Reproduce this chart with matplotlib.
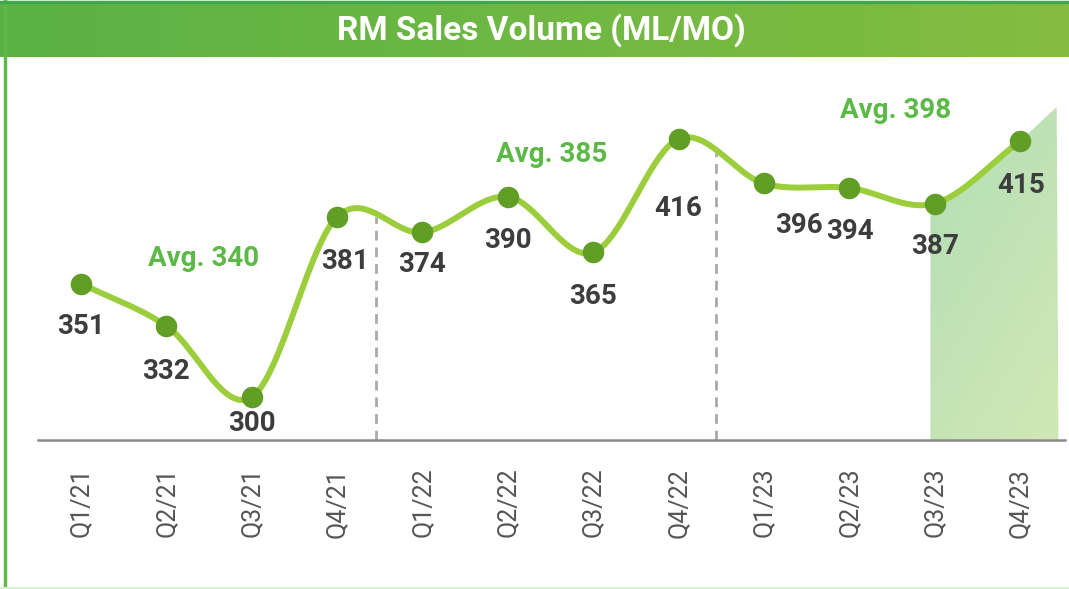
#!/usr/bin/env python3
import numpy as np
from matplotlib import pyplot as plt
from matplotlib.patches import Polygon
from matplotlib.colors import LinearSegmentedColormap

quarters = ['Q1/21', 'Q2/21', 'Q3/21', 'Q4/21', 'Q1/22', 'Q2/22',
            'Q3/22', 'Q4/22', 'Q1/23', 'Q2/23', 'Q3/23', 'Q4/23']
volumes = [351, 332, 300, 381, 374, 390, 365, 416, 396, 394, 387, 415]
averages = [340, 385, 398]
title = 'RM Sales Volume (ML/MO)'

plt.rcParams['font.family'] = ['Roboto', 'DejaVu Sans']

line_c = '#9ccd3c'
dot_c = '#619e26'
num_c = '#3d3d3f'
avg_c = '#5cb947'


def catmull(y, n=40):
    # smooth curve through every point (catmull-rom)
    y = np.asarray(y, float)
    m = np.empty_like(y)
    m[1:-1] = (y[2:] - y[:-2]) / 2
    m[0] = y[1] - y[0]
    m[-1] = y[-1] - y[-2]
    xs, ys = [], []
    for i in range(len(y) - 1):
        t = np.linspace(0, 1, n, endpoint=False)
        h00 = 2*t**3 - 3*t**2 + 1
        h10 = t**3 - 2*t**2 + t
        h01 = -2*t**3 + 3*t**2
        h11 = t**3 - t**2
        xs.append(i + t)
        ys.append(h00*y[i] + h10*m[i] + h01*y[i+1] + h11*m[i+1])
    xs.append([len(y) - 1])
    ys.append([y[-1]])
    return np.concatenate(xs), np.concatenate(ys), m


fig = plt.figure(figsize=(10.69, 5.89), dpi=100)

# header band
hax = fig.add_axes([0, 1 - 57/589, 1, 54/589])
grad = np.linspace(0, 1, 256).reshape(1, -1)
hcmap = LinearSegmentedColormap.from_list('h', ['#5ab246', '#84bd40'])
hax.imshow(grad, aspect='auto', cmap=hcmap, extent=[0, 1, 0, 1])
hax.set_xlim(0, 1)
hax.set_ylim(0, 1)
hax.axis('off')
hax.text(0.506, 0.5, title, color='white', fontsize=24, fontweight='bold',
         ha='center', va='center')

# frame lines
fig.add_artist(plt.Line2D([4.5/1069, 4.5/1069], [0, 1], color='#5fb84a', lw=2.5))
fig.add_artist(plt.Line2D([0, 1], [1 - 2/589, 1 - 2/589], color='#3fa84b', lw=2.5))
fig.add_artist(plt.Line2D([0, 1], [1.5/589, 1.5/589], color='#d9efd2', lw=1.5))

ax = fig.add_axes([38/1069, 149/589, 1027/1069, 380/589])
ax.set_xlim(-0.504, 11.527)
ax.set_ylim(280.7, 451.5)

x = np.arange(len(volumes))
cx, cy, slopes = catmull(volumes)

# shaded area under the last segment
mask = cx >= 9.95
fx = np.concatenate([cx[mask], [11.43]])
fy = np.concatenate([cy[mask], [volumes[-1] + slopes[-1] * 0.55]])
poly_xy = np.concatenate([[[9.95, 280.7]], np.column_stack([fx, fy]),
                          [[11.45, 280.7]]])
poly = Polygon(poly_xy, closed=True, facecolor='none', edgecolor='none')
ax.add_patch(poly)
gx, gy = np.meshgrid(np.linspace(0, 1, 64), np.linspace(0, 1, 64))
fcmap = LinearSegmentedColormap.from_list('f', ['#b2deb6', '#d1e8b4'])
img = ax.imshow(gx * 0.4 + gy * 0.6, cmap=fcmap, aspect='auto', origin='upper',
                extent=[9.9, 11.5, 280.7, 432], zorder=1)
img.set_clip_path(poly)

# period separators
ax.plot([3.455, 3.455], [280.7, 380.9], ls=(0, (3.5, 2.5)), color='#a9a9a9', lw=2, zorder=1)
ax.plot([7.44, 7.44], [280.7, 409.7], ls=(0, (3.5, 2.5)), color='#a9a9a9', lw=2, zorder=1)

ax.plot(cx, cy, color=line_c, lw=4.3, solid_capstyle='round', zorder=3)
ax.plot(x, volumes, 'o', color=dot_c, ms=14.5, zorder=4)

# value labels (offsets in pixels: right, down)
offsets = [(0, 43), (0, 46), (0, 26), (8, 45), (0, 32), (0, 44),
           (0, 44), (0, 70), (35, 42), (1, 44), (0, 43), (1, 44)]
for xi, v, (dx, dy) in zip(x, volumes, offsets):
    ax.annotate(str(v), (xi, v), xytext=(dx * 0.72, -dy * 0.72),
                textcoords='offset points', ha='center', va='center',
                fontsize=20, fontweight='bold', color=num_c, zorder=5)

avg_pos = [(1.44, 362.5), (5.51, 408.8), (9.54, 429.0)]
for a, (ax_x, ax_y) in zip(averages, avg_pos):
    ax.text(ax_x, ax_y, f'Avg. {a}', ha='center', va='center',
            fontsize=20, fontweight='bold', color=avg_c, zorder=5)

for s in ['top', 'right', 'left']:
    ax.spines[s].set_visible(False)
ax.spines['bottom'].set_color('#8a8a8a')
ax.spines['bottom'].set_linewidth(1.8)
ax.set_yticks([])
ax.set_xticks(x)
ax.set_xticklabels(quarters, rotation=90, fontsize=18, color='#555555')
ax.tick_params(axis='x', length=0, pad=20)

plt.savefig('out.png', dpi=100)
